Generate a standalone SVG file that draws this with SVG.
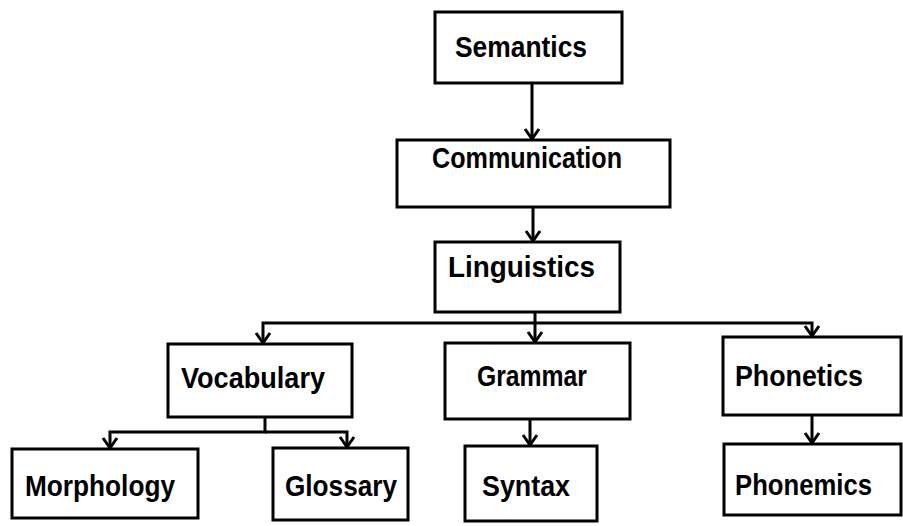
<svg xmlns="http://www.w3.org/2000/svg" width="903" height="526" viewBox="0 0 903 526">
<style>
.box{fill:#fff;stroke:#000;stroke-width:3}
.lbl{font-family:"Liberation Sans","Arial",sans-serif;font-weight:bold;font-size:30px;fill:#000}
.con{fill:none;stroke:#000;stroke-width:3}
</style>
<defs>
<marker id="arr" viewBox="-12 -10 14 20" refX="0" refY="0" markerWidth="14" markerHeight="20" markerUnits="userSpaceOnUse" orient="auto">
<path d="M-10,-7 L0,0 L-10,7" fill="none" stroke="#000" stroke-width="3"/>
</marker>
</defs>
<rect width="903" height="526" fill="#fff"/>
<g id="connectors">
<path class="con" d="M532,83 V139" marker-end="url(#arr)"/>
<path class="con" d="M533,207 V241" marker-end="url(#arr)"/>
<path class="con" d="M535,312 V323 H263 V343" marker-end="url(#arr)"/>
<path class="con" d="M535,323 V342" marker-end="url(#arr)"/>
<path class="con" d="M535,323 H812 V336" marker-end="url(#arr)"/>
<path class="con" d="M530,419 V445" marker-end="url(#arr)"/>
<path class="con" d="M812,415 V443" marker-end="url(#arr)"/>
<path class="con" d="M265,417 V432 H110 V448" marker-end="url(#arr)"/>
<path class="con" d="M265,432 H347 V447" marker-end="url(#arr)"/>
</g>
<g id="semantics"><rect class="box" x="435" y="12" width="187" height="71"/><text class="lbl" x="455" y="57" textLength="132" lengthAdjust="spacingAndGlyphs">Semantics</text></g>
<g id="communication"><rect class="box" x="397" y="140" width="273" height="67"/><text class="lbl" x="432" y="168" textLength="190" lengthAdjust="spacingAndGlyphs">Communication</text></g>
<g id="linguistics"><rect class="box" x="435" y="242" width="185" height="70"/><text class="lbl" x="448" y="277" textLength="147" lengthAdjust="spacingAndGlyphs">Linguistics</text></g>
<g id="vocabulary"><rect class="box" x="168" y="344" width="184" height="73"/><text class="lbl" x="181" y="388" textLength="144" lengthAdjust="spacingAndGlyphs">Vocabulary</text></g>
<g id="grammar"><rect class="box" x="445" y="343" width="185" height="76"/><text class="lbl" x="477" y="386" textLength="110" lengthAdjust="spacingAndGlyphs">Grammar</text></g>
<g id="phonetics"><rect class="box" x="723" y="337" width="178" height="78"/><text class="lbl" x="735" y="386" textLength="128" lengthAdjust="spacingAndGlyphs">Phonetics</text></g>
<g id="morphology"><rect class="box" x="12" y="449" width="186" height="69"/><text class="lbl" x="25" y="496" textLength="150" lengthAdjust="spacingAndGlyphs">Morphology</text></g>
<g id="glossary"><rect class="box" x="273" y="448" width="135" height="72"/><text class="lbl" x="285" y="496" textLength="112" lengthAdjust="spacingAndGlyphs">Glossary</text></g>
<g id="syntax"><rect class="box" x="465" y="446" width="132" height="75"/><text class="lbl" x="482" y="496" textLength="88" lengthAdjust="spacingAndGlyphs">Syntax</text></g>
<g id="phonemics"><rect class="box" x="724" y="444" width="177" height="71"/><text class="lbl" x="735" y="495" textLength="137" lengthAdjust="spacingAndGlyphs">Phonemics</text></g>
</svg>
